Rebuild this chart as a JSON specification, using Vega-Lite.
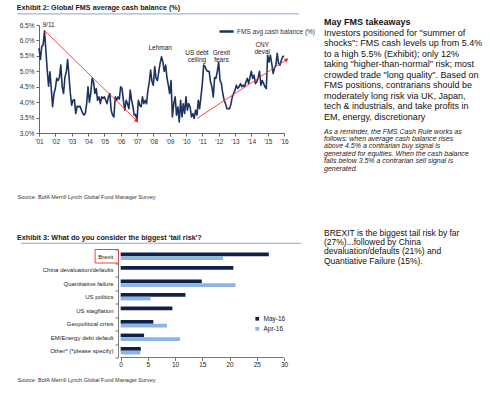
{
  "$schema": "https://vega.github.io/schema/vega-lite/v6.json",
  "padding": {"left": 16, "top": 4, "right": 0, "bottom": 0},
  "background": "white",
  "config": {"view": {"stroke": null}, "font": "Liberation Sans", "axis": {"titleFontWeight": "normal", "labelOverlap": false, "labelFont": "Liberation Sans"}},
  "datasets": {
    "cash": [
      {"date":"2001-05-01","cash":5.75},{"date":"2001-06-01","cash":5.38},{"date":"2001-07-01","cash":5.8},{"date":"2001-08-01","cash":5.85},{"date":"2001-09-01","cash":6.3},{"date":"2001-10-01","cash":5.7},{"date":"2001-11-01","cash":5.04},{"date":"2001-12-01","cash":4.52},
      {"date":"2002-01-01","cash":4.98},{"date":"2002-02-01","cash":4.4},{"date":"2002-03-01","cash":3.85},{"date":"2002-04-01","cash":4.28},{"date":"2002-05-01","cash":4.44},{"date":"2002-06-01","cash":4.77},{"date":"2002-07-01","cash":4.7},{"date":"2002-08-01","cash":4.8},{"date":"2002-09-01","cash":5.2},{"date":"2002-10-01","cash":4.5},{"date":"2002-11-01","cash":4.28},{"date":"2002-12-01","cash":4.8},
      {"date":"2003-01-01","cash":4.98},{"date":"2003-02-01","cash":5.38},{"date":"2003-03-01","cash":4.87},{"date":"2003-04-01","cash":4.3},{"date":"2003-05-01","cash":3.9},{"date":"2003-06-01","cash":4.06},{"date":"2003-07-01","cash":4.08},{"date":"2003-08-01","cash":3.63},{"date":"2003-09-01","cash":3.87},{"date":"2003-10-01","cash":3.85},{"date":"2003-11-01","cash":3.87},{"date":"2003-12-01","cash":3.76},
      {"date":"2004-01-01","cash":3.65},{"date":"2004-02-01","cash":3.58},{"date":"2004-03-01","cash":3.63},{"date":"2004-04-01","cash":3.95},{"date":"2004-05-01","cash":4.5},{"date":"2004-06-01","cash":4.0},{"date":"2004-07-01","cash":4.28},{"date":"2004-08-01","cash":4.77},{"date":"2004-09-01","cash":4.66},{"date":"2004-10-01","cash":4.28},{"date":"2004-11-01","cash":4.44},{"date":"2004-12-01","cash":4.06},
      {"date":"2005-01-01","cash":4.17},{"date":"2005-02-01","cash":3.95},{"date":"2005-03-01","cash":4.17},{"date":"2005-04-01","cash":4.12},{"date":"2005-05-01","cash":4.17},{"date":"2005-06-01","cash":4.06},{"date":"2005-07-01","cash":3.95},{"date":"2005-08-01","cash":4.17},{"date":"2005-09-01","cash":4.28},{"date":"2005-10-01","cash":3.74},{"date":"2005-11-01","cash":3.58},{"date":"2005-12-01","cash":3.52},
      {"date":"2006-01-01","cash":4.17},{"date":"2006-02-01","cash":4.06},{"date":"2006-03-01","cash":4.17},{"date":"2006-04-01","cash":4.1},{"date":"2006-05-01","cash":4.5},{"date":"2006-06-01","cash":4.44},{"date":"2006-07-01","cash":4.06},{"date":"2006-08-01","cash":3.74},{"date":"2006-09-01","cash":4.06},{"date":"2006-10-01","cash":3.95},{"date":"2006-11-01","cash":3.79},{"date":"2006-12-01","cash":4.39},
      {"date":"2007-01-01","cash":4.06},{"date":"2007-02-01","cash":3.85},{"date":"2007-03-01","cash":3.58},{"date":"2007-04-01","cash":3.6},{"date":"2007-05-01","cash":3.4},{"date":"2007-06-01","cash":4.06},{"date":"2007-07-01","cash":3.9},{"date":"2007-08-01","cash":3.85},{"date":"2007-09-01","cash":4.17},{"date":"2007-10-01","cash":3.95},{"date":"2007-11-01","cash":4.06},{"date":"2007-12-01","cash":3.95},
      {"date":"2008-01-01","cash":4.39},{"date":"2008-02-01","cash":4.66},{"date":"2008-03-01","cash":5.04},{"date":"2008-04-01","cash":4.66},{"date":"2008-05-01","cash":4.55},{"date":"2008-06-01","cash":5.15},{"date":"2008-07-01","cash":4.77},{"date":"2008-08-01","cash":4.7},{"date":"2008-09-01","cash":5.0},{"date":"2008-10-01","cash":5.27},{"date":"2008-11-01","cash":5.47},{"date":"2008-12-01","cash":5.3},
      {"date":"2009-01-01","cash":5.0},{"date":"2009-02-01","cash":5.2},{"date":"2009-03-01","cash":4.8},{"date":"2009-04-01","cash":4.55},{"date":"2009-05-01","cash":4.28},{"date":"2009-06-01","cash":4.7},{"date":"2009-07-01","cash":3.52},{"date":"2009-08-01","cash":3.95},{"date":"2009-09-01","cash":4.17},{"date":"2009-10-01","cash":3.58},{"date":"2009-11-01","cash":3.85},{"date":"2009-12-01","cash":3.36},
      {"date":"2010-01-01","cash":4.06},{"date":"2010-02-01","cash":3.52},{"date":"2010-03-01","cash":3.95},{"date":"2010-04-01","cash":3.63},{"date":"2010-05-01","cash":4.17},{"date":"2010-06-01","cash":3.74},{"date":"2010-07-01","cash":3.95},{"date":"2010-08-01","cash":3.85},{"date":"2010-09-01","cash":3.52},{"date":"2010-10-01","cash":3.63},{"date":"2010-11-01","cash":3.47},{"date":"2010-12-01","cash":3.74},
      {"date":"2011-01-01","cash":3.58},{"date":"2011-02-01","cash":4.06},{"date":"2011-03-01","cash":3.79},{"date":"2011-04-01","cash":4.17},{"date":"2011-05-01","cash":4.6},{"date":"2011-06-01","cash":5.2},{"date":"2011-07-01","cash":5.15},{"date":"2011-08-01","cash":5.04},{"date":"2011-09-01","cash":5.0},{"date":"2011-10-01","cash":5.0},{"date":"2011-11-01","cash":4.66},{"date":"2011-12-01","cash":4.5},
      {"date":"2012-01-01","cash":4.17},{"date":"2012-02-01","cash":4.8},{"date":"2012-03-01","cash":4.77},{"date":"2012-04-01","cash":5.0},{"date":"2012-05-01","cash":5.3},{"date":"2012-06-01","cash":4.7},{"date":"2012-07-01","cash":4.6},{"date":"2012-08-01","cash":4.28},{"date":"2012-09-01","cash":4.06},{"date":"2012-10-01","cash":3.95},{"date":"2012-11-01","cash":3.79},{"date":"2012-12-01","cash":3.79},
      {"date":"2013-01-01","cash":3.79},{"date":"2013-02-01","cash":3.95},{"date":"2013-03-01","cash":4.17},{"date":"2013-04-01","cash":4.28},{"date":"2013-05-01","cash":4.39},{"date":"2013-06-01","cash":4.55},{"date":"2013-07-01","cash":4.44},{"date":"2013-08-01","cash":4.5},{"date":"2013-09-01","cash":4.6},{"date":"2013-10-01","cash":4.5},{"date":"2013-11-01","cash":4.55},{"date":"2013-12-01","cash":4.5},
      {"date":"2014-01-01","cash":4.66},{"date":"2014-02-01","cash":4.77},{"date":"2014-03-01","cash":4.6},{"date":"2014-04-01","cash":4.8},{"date":"2014-05-01","cash":5.0},{"date":"2014-06-01","cash":4.77},{"date":"2014-07-01","cash":4.87},{"date":"2014-08-01","cash":4.6},{"date":"2014-09-01","cash":4.66},{"date":"2014-10-01","cash":4.8},{"date":"2014-11-01","cash":5.0},{"date":"2014-12-01","cash":4.55},
      {"date":"2015-01-01","cash":4.7},{"date":"2015-02-01","cash":4.6},{"date":"2015-03-01","cash":4.5},{"date":"2015-04-01","cash":4.44},{"date":"2015-05-01","cash":5.52},{"date":"2015-06-01","cash":5.3},{"date":"2015-07-01","cash":5.52},{"date":"2015-08-01","cash":5.25},{"date":"2015-09-01","cash":4.93},{"date":"2015-10-01","cash":5.1},{"date":"2015-11-01","cash":5.2},{"date":"2015-12-01","cash":5.58},
      {"date":"2016-01-01","cash":5.25},{"date":"2016-02-01","cash":5.2},{"date":"2016-03-01","cash":5.35},{"date":"2016-04-01","cash":5.47},{"date":"2016-05-01","cash":5.5}
    ],
    "arrows": [
      {"arrow":"fall","point":"start","date":"2001-09-01","cash":6.32},
      {"arrow":"fall","point":"end","date":"2007-05-01","cash":3.39},
      {"arrow":"rise","point":"start","date":"2011-01-01","cash":3.47},
      {"arrow":"rise","point":"end","date":"2016-07-01","cash":5.38}
    ],
    "events": [
      {"label":"9/11","date":"2001-12-01","cash":6.5},
      {"label":"Lehman","date":"2008-10-01","cash":5.76},
      {"label":"US debt\nceiling","date":"2011-01-01","cash":5.59},
      {"label":"Grexit\nfears","date":"2012-07-01","cash":5.59},
      {"label":"CNY\ndeval","date":"2015-01-01","cash":5.86}
    ],
    "risks": [
      {"risk":"Brexit","survey":"May-16","pct":27.2},
      {"risk":"Brexit","survey":"Apr-16","pct":18.8},
      {"risk":"China devaluation/defaults","survey":"May-16","pct":20.7},
      {"risk":"Quantitative failure","survey":"May-16","pct":14.9},
      {"risk":"Quantitative failure","survey":"Apr-16","pct":21.1},
      {"risk":"US politics","survey":"May-16","pct":11.9},
      {"risk":"US politics","survey":"Apr-16","pct":5.5},
      {"risk":"US stagflation","survey":"May-16","pct":9.5},
      {"risk":"Geopolitical crisis","survey":"May-16","pct":6.0},
      {"risk":"Geopolitical crisis","survey":"Apr-16","pct":8.5},
      {"risk":"EM/Energy debt default","survey":"May-16","pct":4.3},
      {"risk":"EM/Energy debt default","survey":"Apr-16","pct":10.9},
      {"risk":"Other* (*please specify)","survey":"May-16","pct":3.7},
      {"risk":"Other* (*please specify)","survey":"Apr-16","pct":3.6}
    ],
    "takeaways": [
      {"part":"body","text":"Investors positioned for \"summer of\nshocks\": FMS cash levels up from 5.4%\nto a high 5.5% (Exhibit); only 12%\ntaking \"higher-than-normal\" risk; most\ncrowded trade \"long quality\". Based on\nFMS positions, contrarians should be\nmoderately long risk via UK, Japan,\ntech & industrials, and take profits in\nEM, energy, discretionary"},
      {"part":"note","text":"As a reminder, the FMS Cash Rule works as\nfollows: when average cash balance rises\nabove 4.5% a contrarian buy signal is\ngenerated for equities. When the cash balance\nfalls below 3.5% a contrarian sell signal is\ngenerated."}
    ]
  },
  "columns": 2,
  "align": {"row": "each", "column": "none"},
  "spacing": {"row": 28.5, "column": 8},
  "resolve": {"scale": {"color": "independent"}, "legend": {"color": "independent"}},
  "concat": [
    {
      "width": 245,
      "height": 108,
      "title": {"text": "Exhibit 2: Global FMS average cash balance (%)", "anchor": "start", "frame": "bounds", "fontSize": 7.2, "fontWeight": "bold", "color": "#1a1a1a", "offset": 2},
      "layer": [
        {
          "data": {"name": "cash"},
          "mark": {"type": "line", "strokeWidth": 1.6, "strokeJoin": "round"},
          "encoding": {
            "x": {"field": "date", "type": "temporal",
              "scale": {"domain": [{"year":2001,"month":5,"date":1},{"year":2016,"month":5,"date":1}]},
              "axis": {"values": [{"year":2001,"month":5,"date":1},{"year":2002,"month":5,"date":1},{"year":2003,"month":5,"date":1},{"year":2004,"month":5,"date":1},{"year":2005,"month":5,"date":1},{"year":2006,"month":5,"date":1},{"year":2007,"month":5,"date":1},{"year":2008,"month":5,"date":1},{"year":2009,"month":5,"date":1},{"year":2010,"month":5,"date":1},{"year":2011,"month":5,"date":1},{"year":2012,"month":5,"date":1},{"year":2013,"month":5,"date":1},{"year":2014,"month":5,"date":1},{"year":2015,"month":5,"date":1},{"year":2016,"month":5,"date":1}],
                "tickCount": 40, "format": "'%y", "labelFontSize": 6.5, "labelColor": "#333", "labelAngle": 0, "labelOverlap": false, "labelFlush": false,
                "tickSize": 3, "tickColor": "#666", "domainColor": "#666", "labelPadding": 2, "grid": false,
                "title": "Source: BofA Merrill Lynch Global Fund Manager Survey", "titleX": -22, "titleAlign": "left", "titleFontSize": 5.5, "titleColor": "#333", "titlePadding": 50}},
            "y": {"field": "cash", "type": "quantitative", "scale": {"domain": [3, 6.5]},
              "axis": {"values": [3,3.5,4,4.5,5,5.5,6,6.5], "tickCount": 40, "labelExpr": "format(datum.value, '.1f') + '%'", "labelOverlap": false, "labelFontSize": 6.5, "labelColor": "#333", "tickSize": 3, "tickColor": "#666", "domainColor": "#666", "labelPadding": 2, "grid": false, "title": null}},
            "color": {"datum": "FMS avg cash balance (%)", "scale": {"range": ["#1c3361"]},
              "legend": {"orient": "none", "legendX": 179, "legendY": -2, "title": null, "symbolType": "stroke", "symbolSize": 200, "symbolStrokeWidth": 2.5, "labelFontSize": 6.5, "labelColor": "#333", "labelOffset": 2}}
          }
        },
        {
          "data": {"name": "arrows"},
          "mark": {"type": "line", "color": "#ff3333", "strokeWidth": 0.9},
          "encoding": {
            "x": {"field": "date", "type": "temporal"},
            "y": {"field": "cash", "type": "quantitative"},
            "detail": {"field": "arrow", "type": "nominal"}
          }
        },
        {
          "data": {"name": "arrows"},
          "transform": [{"filter": "datum.arrow === 'fall' && datum.point === 'end'"}],
          "mark": {"type": "point", "shape": "triangle-right", "angle": 45, "filled": true, "color": "#ff2222", "size": 22, "opacity": 1},
          "encoding": {"x": {"field": "date", "type": "temporal"}, "y": {"field": "cash", "type": "quantitative"}}
        },
        {
          "data": {"name": "arrows"},
          "transform": [{"filter": "datum.arrow === 'rise' && datum.point === 'end'"}],
          "mark": {"type": "point", "shape": "triangle-right", "angle": -33, "filled": true, "color": "#ff2222", "size": 22, "opacity": 1},
          "encoding": {"x": {"field": "date", "type": "temporal"}, "y": {"field": "cash", "type": "quantitative"}}
        },
        {
          "data": {"name": "events"},
          "mark": {"type": "text", "fontSize": 6.5, "lineBreak": "\n", "lineHeight": 7.4, "color": "#222", "baseline": "middle", "align": "center"},
          "encoding": {"x": {"field": "date", "type": "temporal"}, "y": {"field": "cash", "type": "quantitative"}, "text": {"field": "label", "type": "nominal"}}
        },
        {
          "data": {"name": "events"},
          "transform": [{"filter": "datum.label === '9/11'"}],
          "mark": {"type": "rule", "color": "#8aa3c8", "strokeWidth": 1},
          "encoding": {
            "x": {"datum": {"year":2000,"month":1,"date":1}, "type": "temporal"},
            "x2": {"datum": {"year":2017,"month":4,"date":1}},
            "y": {"datum": 6.86, "type": "quantitative"}
          }
        }
      ]
    },
    {
      "width": 165,
      "height": 102.5,
      "data": {"name": "takeaways"},
      "title": {"text": "May FMS takeaways", "anchor": "start", "frame": "group", "fontSize": 9, "fontWeight": "bold", "color": "#111", "offset": -2},
      "layer": [
        {
          "transform": [{"filter": "datum.part === 'body'"}],
          "mark": {"type": "text", "align": "left", "baseline": "line-top", "lineBreak": "\n", "lineHeight": 10.45, "fontSize": 9, "dy": 3, "color": "#111"},
          "encoding": {
            "x": {"datum": 0, "type": "quantitative", "scale": {"domain": [0, 1]}, "axis": null},
            "y": {"datum": 1, "type": "quantitative", "scale": {"domain": [0, 1]}, "axis": null},
            "text": {"field": "text", "type": "nominal"}
          }
        },
        {
          "transform": [{"filter": "datum.part === 'note'"}],
          "mark": {"type": "text", "align": "left", "baseline": "top", "lineBreak": "\n", "lineHeight": 7.45, "fontSize": 7, "fontStyle": "italic", "color": "#222"},
          "encoding": {
            "x": {"datum": 0, "type": "quantitative"},
            "y": {"datum": 0, "type": "quantitative"},
            "text": {"field": "text", "type": "nominal"}
          }
        }
      ]
    },
    {
      "width": 245,
      "height": 108,
      "title": {"text": "Exhibit 3: What do you consider the biggest 'tail risk'?", "anchor": "start", "frame": "bounds", "fontSize": 7.2, "fontWeight": "bold", "color": "#1a1a1a", "offset": 2},
      "resolve": {"scale": {"y": "independent"}},
      "layer": [
        {
          "layer": [
            {
              "data": {"name": "risks"},
              "mark": {"type": "bar"},
              "encoding": {
                "y": {"field": "risk", "type": "nominal",
                  "scale": {"domain": ["Brexit","China devaluation/defaults","Quantitative failure","US politics","US stagflation","Geopolitical crisis","EM/Energy debt default","Other* (*please specify)"], "paddingInner": 0, "paddingOuter": 0},
                  "axis": {"title": null, "offset": -79, "tickBand": "extent", "tickSize": 3, "tickColor": "#777", "domainColor": "#777", "labelPadding": 2, "labelFontSize": 6, "labelColor": "#222"}},
                "x": {"field": "pct", "type": "quantitative", "scale": {"domain": [-14.3, 30]},
                  "axis": {"values": [0,5,10,15,20,25,30], "tickCount": 40, "domain": false, "labelOverlap": false, "grid": false, "tickSize": 3, "tickColor": "#777", "labelPadding": 1, "labelFontSize": 6.5, "labelColor": "#222", "labelFlush": false,
                    "title": "Source: BofA Merrill Lynch Global Fund Manager Survey", "titleX": -22, "titleAlign": "left", "titleFontSize": 5.5, "titleColor": "#333", "titlePadding": 9}},
                "yOffset": {"field": "survey", "type": "nominal", "sort": ["May-16","Apr-16"], "scale": {"paddingOuter": 0.83, "paddingInner": 0}},
                "color": {"field": "survey", "type": "nominal", "scale": {"domain": ["May-16","Apr-16"], "range": ["#0f2147","#8eb4e3"]},
                  "legend": {"orient": "none", "legendX": 215, "legendY": 66, "title": null, "symbolType": "square", "symbolSize": 14, "labelFontSize": 6.5, "labelColor": "#222", "rowPadding": 3, "labelOffset": 3}}
              }
            },
            {
              "data": {"name": "risks"},
              "transform": [{"filter": "datum.risk === 'Brexit' && datum.survey === 'May-16'"}],
              "mark": {"type": "rect", "fill": null, "stroke": "#e64545", "strokeWidth": 1},
              "encoding": {
                "y": {"field": "risk", "type": "nominal"},
                "x": {"datum": -4.7, "type": "quantitative"},
                "x2": {"datum": -0.4}
              }
            }
          ]
        },
        {
          "data": {"name": "risks"},
          "transform": [{"filter": "datum.risk === 'Brexit' && datum.survey === 'May-16'"}],
          "mark": {"type": "rule", "color": "#777", "strokeWidth": 1},
          "encoding": {
            "x": {"datum": 0, "type": "quantitative"},
            "x2": {"datum": 30},
            "y": {"datum": 0, "type": "quantitative", "scale": {"domain": [0, 1]}, "axis": null}
          }
        },
        {
          "data": {"name": "risks"},
          "transform": [{"filter": "datum.risk === 'Brexit' && datum.survey === 'May-16'"}],
          "mark": {"type": "rule", "color": "#8aa3c8", "strokeWidth": 1},
          "encoding": {
            "x": {"datum": -18.3, "type": "quantitative"},
            "x2": {"datum": 33.1},
            "y": {"datum": 1.058, "type": "quantitative", "scale": {"domain": [0, 1]}, "axis": null}
          }
        }
      ]
    },
    {
      "width": 165,
      "height": 1,
      "title": {"text": ["BREXIT is the biggest tail risk by far", "(27%)...followed by China", "devaluation/defaults (21%) and", "Quantiative Failure (15%)."], "anchor": "start", "frame": "group", "fontSize": 8.5, "fontWeight": "normal", "lineHeight": 9.2, "color": "#111", "offset": -21.2},
      "data": {"values": [{"note": "summary"}]},
      "mark": {"type": "text"},
      "encoding": {"text": {"value": ""}}
    }
  ]
}
